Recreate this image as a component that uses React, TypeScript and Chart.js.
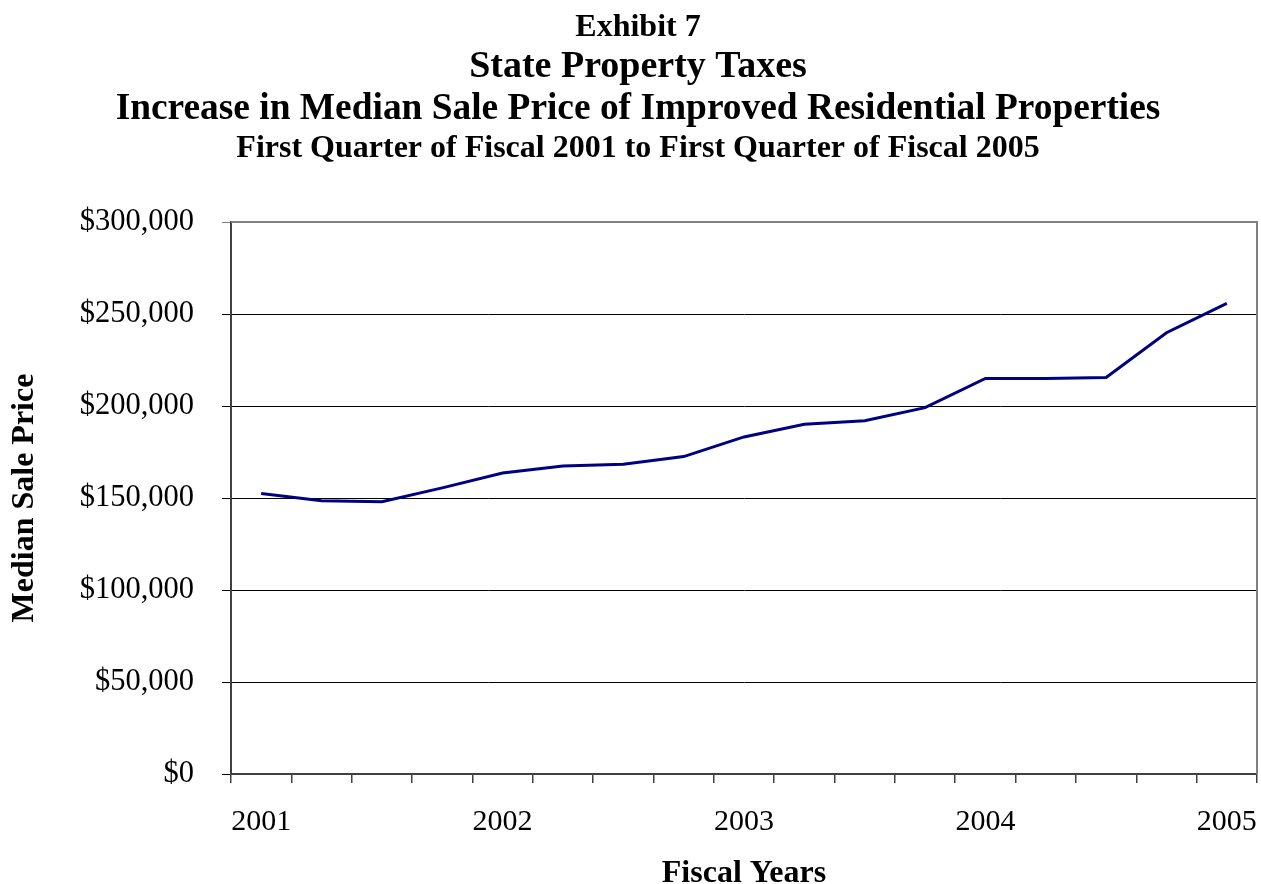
import React, { useEffect, useRef } from "react";
import { Chart, registerables } from "chart.js";

Chart.register(...registerables);

const quarterLabels: string[] = [
  "2001", "", "", "",
  "2002", "", "", "",
  "2003", "", "", "",
  "2004", "", "", "",
  "2005",
];

const medianSalePrice: number[] = [
  152500, 148500, 148000, 155500,
  163600, 167400, 168400, 172500,
  183200, 190100, 192000, 199100,
  215000, 215000, 215500, 239800,
  255800,
];

const titleLines: { text: string; size: number; y: number }[] = [
  { text: "Exhibit 7", size: 32, y: 36 },
  { text: "State Property Taxes", size: 38, y: 77 },
  { text: "Increase in Median Sale Price of Improved Residential Properties", size: 37.4, y: 119 },
  { text: "First Quarter of Fiscal 2001 to First Quarter of Fiscal 2005", size: 32, y: 157 },
];

const yAxisTitle = "Median Sale Price";
const xAxisTitle = "Fiscal Years";

const FONT = "'Liberation Serif', 'Times New Roman', serif";

const titlePlugin = {
  id: "exhibitTitle",
  afterDraw(chart: any) {
    const ctx = chart.ctx;
    ctx.save();
    ctx.fillStyle = "#000";
    ctx.textAlign = "center";
    ctx.textBaseline = "alphabetic";
    for (const line of titleLines) {
      ctx.font = `bold ${line.size}px ${FONT}`;
      ctx.fillText(line.text, 638, line.y);
    }
    ctx.restore();
  },
};

const borderPlugin = {
  id: "plotBorder",
  afterDatasetsDraw(chart: any) {
    const { ctx, chartArea } = chart;
    ctx.save();
    ctx.strokeStyle = "#808080";
    ctx.lineWidth = 2;
    ctx.beginPath();
    ctx.moveTo(chartArea.left, chartArea.top);
    ctx.lineTo(chartArea.right, chartArea.top);
    ctx.lineTo(chartArea.right, chartArea.bottom);
    ctx.stroke();
    ctx.restore();
  },
};

export default function App() {
  const canvasRef = useRef<HTMLCanvasElement | null>(null);

  useEffect(() => {
    document.body.style.margin = "0";
    const canvas = canvasRef.current;
    if (!canvas) return;
    const chart = new Chart(canvas, {
      type: "line",
      data: {
        labels: quarterLabels,
        datasets: [
          {
            data: medianSalePrice,
            borderColor: "#000080",
            borderWidth: 3,
            pointRadius: 0,
            tension: 0,
            fill: false,
          },
        ],
      },
      options: {
        responsive: false,
        animation: false,
        layout: { padding: { top: 222, right: 4, left: 0, bottom: 0 } },
        plugins: {
          legend: { display: false },
          tooltip: { enabled: false },
          title: { display: false },
        },
        scales: {
          x: {
            type: "category",
            offset: true,
            grid: {
              offset: true,
              drawOnChartArea: false,
              drawTicks: true,
              tickLength: 9,
              color: "#404040",
              lineWidth: 1.5,
            },
            border: { display: true, color: "#404040", width: 2 },
            ticks: {
              autoSkip: false,
              maxRotation: 0,
              minRotation: 0,
              color: "#000",
              font: { family: FONT, size: 30 },
              padding: 21,
            },
            title: {
              display: true,
              text: xAxisTitle,
              color: "#000",
              font: { family: FONT, size: 32, weight: "bold", lineHeight: 1 },
              padding: { top: 0, bottom: -6 },
            },
            afterFit(scale: any) {
              scale.height = 884 - 774;
              scale.paddingLeft = 0;
              scale.paddingRight = 0;
            },
          },
          y: {
            min: 0,
            max: 300000,
            grid: {
              color: (c: any) => (c.tick && c.tick.value === 300000 ? "#808080" : "#000"),
              lineWidth: 1,
              tickLength: 9,
            },
            border: { display: true, color: "#404040", width: 2 },
            ticks: {
              stepSize: 50000,
              color: "#000",
              font: { family: FONT, size: 30.5 },
              padding: 28,
              callback: (v: any) => "$" + Number(v).toLocaleString("en-US"),
            },
            title: {
              display: true,
              text: yAxisTitle,
              color: "#000",
              font: { family: FONT, size: 32, weight: "bold", lineHeight: 1 },
              padding: { top: 9, bottom: 0 },
            },
            afterFit(scale: any) {
              scale.width = 231;
              scale.paddingTop = 0;
              scale.paddingBottom = 0;
            },
          },
        },
      },
      plugins: [titlePlugin, borderPlugin],
    });
    return () => chart.destroy();
  }, []);

  return (
    <div style={{ width: 1261, height: 884 }}>
      <canvas ref={canvasRef} width={1261} height={884} />
    </div>
  );
}
